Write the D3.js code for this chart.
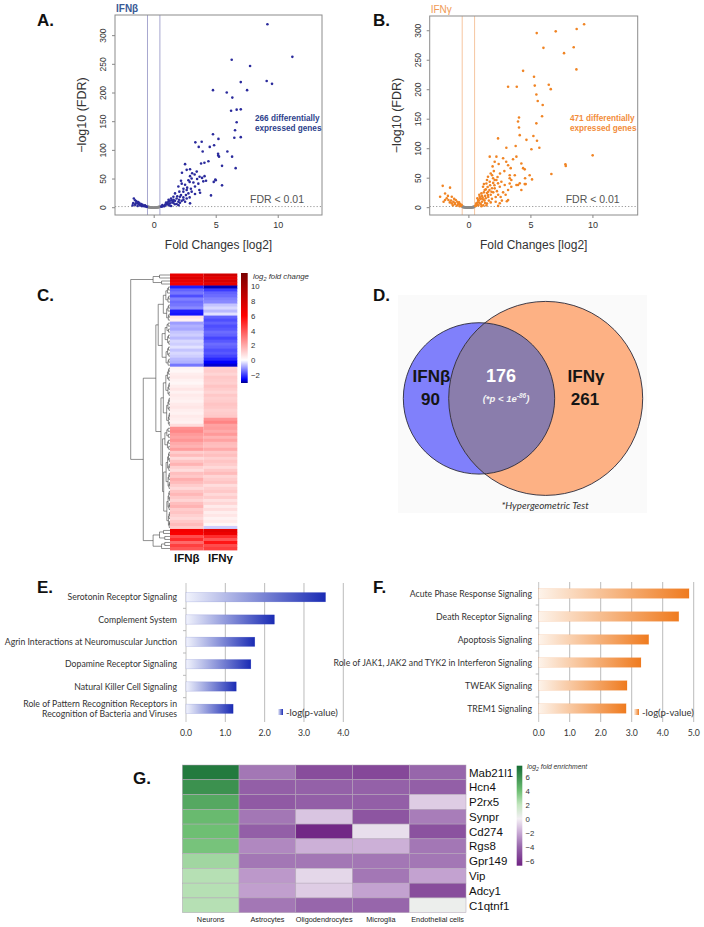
<!DOCTYPE html>
<html><head><meta charset="utf-8">
<script src="https://cdn.jsdelivr.net/npm/d3@7"></script>
<style>body{margin:0;background:#fff} svg{display:block}</style>
</head><body>
<svg id="c" width="704" height="927"></svg>
<script>
// ---------------- DATA ----------------
// Panel A: IFN-beta volcano (log2 fold change, -log10 FDR)
const ifnbSig = [
 [9.17,320],[11.18,263],[6.29,258],[7.77,247],[7.02,219],[9.11,221],[9.54,216],[4.78,205],[5.89,201],[7.53,205],
 [6.34,192],[6.24,169],[6.69,171],[7.02,171.5],[6.69,149],[6.56,135],[6.5,122],[7.02,123],[4.78,128],[5.22,120],
 [3.36,114],[3.87,115],[3.63,106],[4.52,106],[4.87,109],[5.94,98],[5.19,94],[5.27,89],[6.32,89],[6.61,69],
 [2.53,76],[3.82,77],[4.09,78.5],[4.41,81],[5.51,73],[2.28,61],[2.66,66],[2.93,67],[3.47,63],[4.97,49],
 [4.84,45],[4.22,47],[5.51,39],[4.62,21.5],[2.93,55],[2.8,48],[3.06,51],[3.2,44],[3.33,37],[3.68,31],
 [3.74,26],[2.93,7.6],[2.26,42],[2.53,40],[1.99,37],[2.07,28],[2.39,28],[2.66,31],[2.8,25],[3.06,28],
 [3.33,24],[1.72,25],[1.59,19],[1.85,16],[2.12,19],[2.39,18],[2.66,16],[1.45,13],[1.72,12],[1.99,10.5],
 [2.26,12],[1.18,10.5],[1.32,7.6],[1.59,8.7],[1.05,5.8],[0.91,4],[0.78,3],[0.65,1.7],[1.85,6.4],[2.12,8.7],
 [2.53,10.5],[3.95,98],[5.2,91],[3.1,60],[3.3,58],[2.9,45],[3.5,50],[3.9,52],[4.0,46],[3.6,42],
 [2.7,35],[3.0,33],[2.4,33],[2.2,22],[2.6,22],[1.9,20],[2.9,18],[1.6,14],[2.4,14],[1.3,12],
 [1.5,9],[1.1,8],[1.7,6],[0.95,6],[0.85,2.5],[1.25,4],[1.4,3],[2.0,4.5],[3.7,54],[4.1,55],
 [5.0,48],[2.2,47],[1.4,16],[1.2,14],[1.0,9],[0.7,4.5],[0.6,2.2],[1.15,6],[1.55,11],[2.05,14],
 [-1.6,16],[-1.5,13],[-1.4,11],[-1.65,8],[-1.3,8],[-1.2,6],[-1.5,5],[-1.0,6.5],[-0.9,5],[-1.1,4],
 [-0.8,3.5],[-0.7,4],[-0.65,2.5],[-0.6,2],[-1.3,3],[-0.95,2.8],[-1.7,4],[-1.45,7.5],[-1.25,10],[-1.15,8],
 [-0.85,3],[-0.75,2.6],[-0.55,1.5]
];
const ifnbNs = [
 [-0.5,2],[-0.45,1.6],[-0.4,1.3],[-0.35,1],[-0.3,0.8],[-0.25,0.6],[-0.2,0.4],[-0.15,0.2],[-0.1,0.1],[-0.05,0.05],
 [0,0],[0.05,0.05],[0.1,0.1],[0.15,0.2],[0.2,0.4],[0.25,0.6],[0.3,0.8],[0.35,1],[0.4,1.3],[0.45,1.6],[0.5,2],
 [-0.42,0.6],[-0.28,0.3],[0.28,0.3],[0.42,0.6],[0.12,0.5],[-0.12,0.4]
];
// Panel B: IFN-gamma volcano
const ifngSig = [
 [9.33,311],[8.73,303],[7.04,299],[5.51,296],[6.05,271],[8.49,272],[7.71,262],[8.71,234.5],[4.41,232],[5.29,222],
 [3.2,205],[3.9,205],[5.35,207],[6.48,208.5],[6.64,201],[5.48,192],[5.59,181],[5.99,174],[5.94,155],[4.08,153],
 [4.0,146],[5.48,143],[4.08,136],[2.39,117.5],[4.14,123],[4.68,115],[5.24,121.5],[5.53,113.6],[3.81,104.5],[3.06,101.7],
 [5.08,99],[5.72,101.7],[10.02,88.7],[1.72,86.5],[2.26,86.5],[2.8,83.7],[3.87,86.5],[2.12,78],[2.44,74],[3.2,72],
 [4.27,75],[4.41,67],[7.82,73.5],[7.85,70.7],[3.41,67],[4.54,65],[4.94,55],[6.69,57],[1.91,55],[3.33,55],
 [3.74,55],[2.12,47],[3.46,47],[4.57,50],[4.62,40],[4.0,38.5],[3.33,41],
 [1.8,58],[1.58,52.5],[1.99,50],[1.72,44],[1.45,41],[1.18,35.6],[1.31,30],[1.05,24.3],[0.91,18.7],[0.78,13],
 [0.64,7.4],[2.26,46.9],[2.66,44],[2.39,41.3],[2.93,38.5],[2.53,35.6],[2.12,32.8],[1.86,27],[1.58,21.5],[3.2,30],
 [3.46,35.6],[4.14,41.3],[4.54,40],[4.27,30],[3.87,38.5],[3.33,49.8],[2.53,7.4],[3.2,13],[5.13,48],
 [0.6,3],[0.7,5],[0.8,4],[0.9,8],[1.0,6],[1.1,10],[1.2,14],[1.3,12],[1.0,15],[1.1,20],
 [1.4,16],[1.5,25],[1.6,18],[1.7,30],[1.8,22],[1.9,33],[2.0,26],[2.1,38],[2.2,18],[2.3,28],
 [2.4,22],[1.25,26],[1.4,31],[1.55,35],[0.85,12],[0.95,16],[1.35,20],[1.65,12],[1.9,15],[2.2,10],
 [2.6,18],[2.8,26],[3.0,22],[2.7,12],[1.2,4],[1.5,7],[1.8,9],[0.75,9],[0.65,5.5],[0.55,3],
 [1.05,2.5],[1.45,4],[2.4,3],[3.1,11],[1.15,17],[1.35,8],[1.6,27],[1.75,38],[2.0,42],[2.35,52],
 [2.05,62],[1.95,70],[2.9,62],[3.05,78],[3.6,82],[2.55,58],[0.88,22],[0.72,16],[1.25,40],[1.5,47],
 [-2.07,37],[-1.48,34],[-2.28,18.6],[-1.88,24],[-1.75,16],[-1.34,18.6],[-1.61,13],[-1.21,10],[-1.02,13],[-0.81,7.3],
 [-1.08,6.2],[-0.67,6.2],[-0.54,4.5],[-0.94,3.4],[-1.34,7.3],[-1.88,13],[-1.5,9],[-1.15,15],[-0.75,9],[-0.6,3],
 [-0.85,5],[-1.25,4],[-1.65,20],[-2.0,10],[-0.7,2.5],[-0.9,10],[-1.4,12],[-1.1,8],[-0.62,5]
];
const ifngNs = [
 [-0.5,2],[-0.45,1.6],[-0.4,1.3],[-0.35,1],[-0.3,0.8],[-0.25,0.6],[-0.2,0.4],[-0.15,0.2],[-0.1,0.1],[-0.05,0.05],
 [0,0],[0.05,0.05],[0.1,0.1],[0.15,0.2],[0.2,0.4],[0.25,0.6],[0.3,0.8],[0.35,1],[0.4,1.3],[0.45,1.6],[0.5,2],
 [-0.42,0.6],[-0.28,0.3],[0.28,0.3],[0.42,0.6],[0.12,0.5],[-0.12,0.4]
];
const volcanoYTicks = [0,50,100,150,200,250,300];
const volcanoXTicks = [0,5,10];
const fcCutoff = [-0.5, 0.5];
const fdrLine = 2;

// Panel C: heatmap of log2 fold change (rows ordered by clustering)
const heatCols = ["IFNβ","IFNγ"];
const heatIFNb = [7,7.5,7,6.5,-2.3,-1.6,-1.4,-1.8,-1.3,-1.5,-1.4,-1.2,-2.3,-2.4,0.6,0.3,
 -1.0,-0.8,-0.9,-0.6,-0.5,-0.7,-0.4,-0.5,-0.3,-0.6,-0.4,-0.5,-0.7,-0.8,-1.4,
 0.3,0.2,0.4,0.5,0.3,0.2,0.4,0.6,0.3,0.5,0.4,0.3,0.5,0.6,0.4,0.3,0.5,0.4,0.3,0.8,
 2.6,2.8,2.4,2.2,2.5,2.0,1.8,2.3,
 1.2,1.6,0.9,1.4,1.8,1.1,0.8,1.5,1.3,1.9,1.6,1.2,0.9,1.4,1.7,1.3,1.0,1.5,1.8,1.2,1.4,1.1,0.9,1.3,1.6,1.2,
 6.5,6.2,4.2,5,3.5,4.5,4];
const heatIFNg = [8,7.2,7.8,7,-2.9,-2,-1.6,-1.5,-1.3,-1.2,-0.6,-0.4,-0.7,-0.3,-1.6,-1.8,
 -1.6,-1.8,-1.7,-1.5,-1.6,-1.9,-1.7,-1.5,-1.6,-1.8,-1.7,-1.9,-2.2,-2.6,-2.8,
 1.1,1.2,1.0,1.3,1.2,1.1,1.4,1.2,1.0,1.3,1.1,1.2,1.4,1.3,1.1,1.2,1.3,2.5,2.9,2.2,
 2.3,2.0,2.4,1.8,2.2,1.6,1.5,2.0,
 1.3,1.5,1.1,1.4,1.2,0.9,1.3,1.6,1.0,1.2,1.4,0.8,1.1,1.3,0.9,1.2,0.7,1.0,0.5,0.8,0.4,0.6,0.3,0.5,0.2,-0.5,
 7.2,6.8,5,4,5.5,4.2,4.6];
const heatLegendTicks = [10,8,6,4,2,0,-2];
// dendrogram: h = merge height (0..1), r = leaf row range
const dendroTree = {h:1.0, c:[
  {h:0.43, r:[0,3]},
  {h:0.68, c:[
    {h:0.36, c:[
      {h:0.3, c:[{h:0.17, r:[4,15]}, {h:0.2, r:[16,30]}]},
      {h:0.23, c:[{h:0.17, r:[31,50]}, {h:0.19, c:[{h:0.13, r:[51,58]}, {h:0.16, r:[59,84]}]}]}
    ]},
    {h:0.43, r:[85,91]}
  ]}
]};

// Panel D: Venn
const vennSets = ["IFNβ","IFNγ"];
const vennOnly = [90, 261];
const vennShared = 176;

// Panel E / F: pathway enrichment
const pathwaysE = ["Serotonin Receptor Signaling","Complement System","Agrin Interactions at Neuromuscular Junction",
 "Dopamine Receptor Signaling","Natural Killer Cell Signaling",
 "Role of Pattern Recognition Receptors in|Recognition of Bacteria and Viruses"];
const valuesE = [3.55, 2.25, 1.75, 1.65, 1.28, 1.2];
const ticksE = [0,1,2,3,4];
const pathwaysF = ["Acute Phase Response Signaling","Death Receptor Signaling","Apoptosis Signaling",
 "Role of JAK1, JAK2 and TYK2 in Interferon Signaling","TWEAK Signaling","TREM1 Signaling"];
const valuesF = [4.85, 4.52, 3.55, 3.3, 2.85, 2.82];
const ticksF = [0,1,2,3,4,5];

// Panel G: cell-type enrichment
const genesG = ["Mab21l1","Hcn4","P2rx5","Synpr","Cd274","Rgs8","Gpr149","Vip","Adcy1","C1qtnf1"];
const cellTypesG = ["Neurons","Astrocytes","Oligodendrocytes","Microglia","Endothelial cells"];
const enrichG = [
 [7.0,-3.5,-5.0,-5.2,-4.0],
 [6.0,-4.3,-4.2,-4.2,-4.3],
 [5.0,-4.5,-4.3,-4.3,-1.0],
 [4.2,-3.5,-1.2,-4.7,-3.3],
 [4.0,-4.3,-6.5,-0.5,-4.8],
 [3.8,-3.0,-1.8,-1.8,-3.5],
 [2.8,-3.5,-3.5,-3.5,-3.5],
 [2.3,-2.5,-0.7,-3.5,-2.2],
 [2.3,-2.3,-1.0,-2.2,-5.0],
 [2.3,-3.5,-4.0,-4.0,0.3]
];
const enrichLegendTicks = [6,4,2,0,-2,-4,-6];

// ---------------- DRAW ----------------
const svg = d3.select("#c");
const defs = svg.append("defs");
const SANS = "'Liberation Sans', Arial, Helvetica, sans-serif";
const CAL = "Lato, 'Open Sans', sans-serif";

function panelLabel(t, x, y){
  svg.append("text").attr("x",x).attr("y",y).text(t)
    .attr("font-family",SANS).attr("font-weight","bold").attr("font-size",17).attr("fill","#111");
}

// ---- Volcano ----
function volcano(o){
  const g = svg.append("g");
  const x = d3.scaleLinear().domain(o.xd).range([o.x0,o.x1]);
  const y = d3.scaleLinear().domain(o.yd).range([o.y1,o.y0]);
  fcCutoff.forEach(v=>g.append("line").attr("x1",x(v)).attr("x2",x(v)).attr("y1",o.y0).attr("y2",o.y1)
     .attr("stroke",o.lineCol).attr("stroke-width",1));
  g.append("line").attr("x1",o.x0).attr("x2",o.x1).attr("y1",y(fdrLine)).attr("y2",y(fdrLine))
     .attr("stroke","#999").attr("stroke-dasharray","1.2,2").attr("stroke-width",1);
  g.selectAll("circle.ns").data(o.ns).join("circle").attr("cx",d=>x(d[0])).attr("cy",d=>y(d[1]))
     .attr("r",1.3).attr("fill","#8a8a8a");
  g.selectAll("circle.sig").data(o.sig).join("circle").attr("cx",d=>x(d[0])).attr("cy",d=>y(d[1]))
     .attr("r",1.3).attr("fill",o.col);
  g.append("rect").attr("x",o.x0).attr("y",o.y0).attr("width",o.x1-o.x0).attr("height",o.y1-o.y0)
     .attr("fill","none").attr("stroke","#8c8c8c").attr("stroke-width",1);
  // y axis
  const ya = g.append("g").attr("transform",`translate(${o.x0},0)`)
    .call(d3.axisLeft(y).tickValues(volcanoYTicks).tickSize(3).tickFormat(d3.format("d")));
  ya.select(".domain").remove();
  ya.selectAll(".tick").attr("transform",null);
  ya.selectAll(".tick line").attr("stroke","#888").attr("y1",d=>y(d)).attr("y2",d=>y(d));
  ya.selectAll(".tick text").attr("font-family",SANS).attr("font-size",8.5).attr("fill","#333")
    .attr("x",-9).attr("y",d=>y(d)).attr("dy",0).attr("text-anchor","middle")
    .attr("transform",d=>`rotate(-90, -9, ${y(d)})`);
  // x axis
  const xa = g.append("g").attr("transform",`translate(0,${o.y1})`)
    .call(d3.axisBottom(x).tickValues(volcanoXTicks).tickSize(3).tickPadding(4));
  xa.select(".domain").remove();
  xa.selectAll("line").attr("stroke","#888");
  xa.selectAll("text").attr("font-family",SANS).attr("font-size",9).attr("fill","#333");
  g.append("text").attr("transform",`translate(${o.x0-29},${(o.y0+o.y1)/2}) rotate(-90)`)
    .attr("text-anchor","middle").attr("font-family",SANS).attr("font-size",12.5).attr("fill","#333")
    .text("−log10 (FDR)");
  g.append("text").attr("x",(o.x0+o.x1)/2).attr("y",o.y1+34).attr("text-anchor","middle")
    .attr("font-family",SANS).attr("font-size",12).attr("fill","#333").text("Fold Changes [log2]");
  g.append("text").attr("x",o.x1-18).attr("y",y(fdrLine)-4).attr("text-anchor","end")
    .attr("font-family",SANS).attr("font-size",10.5).attr("fill","#555").text("FDR < 0.01");
  g.append("text").attr("x",o.x0+1).attr("y",o.y0-3).attr("font-family",SANS).attr("font-size",10)
    .attr("font-weight",o.titleW).attr("fill",o.titleCol).text(o.title);
  const t = g.append("text").attr("font-family",SANS).attr("font-size",8.2).attr("font-weight","bold").attr("fill",o.col2);
  t.append("tspan").attr("x",o.annX).attr("y",121).text(o.ann1);
  t.append("tspan").attr("x",o.annX).attr("y",131).text("expressed genes");
}
volcano({x0:115,x1:322,y0:15,y1:215,xd:[-3.12,13.57],yd:[-12.7,336],sig:ifnbSig,ns:ifnbNs,
  col:"#2a2a9c",col2:"#2d3f8c",lineCol:"#a7a7cf",title:"IFNβ",titleCol:"#3a5a96",titleW:"bold",
  ann1:"266 differentially",annX:255});
volcano({x0:429.7,x1:637.7,y0:16,y1:215,xd:[-3.12,13.65],yd:[-12.4,325],sig:ifngSig,ns:ifngNs,
  col:"#f08424",col2:"#f28c3a",lineCol:"#f6c6a0",title:"IFNγ",titleCol:"#f09a55",titleW:"normal",
  ann1:"471 differentially",annX:570});
panelLabel("A.",37,26);
panelLabel("B.",373,26);

// ---- Panel C heatmap ----
(function(){
  const hx0=170, hx1=237.3, hy0=273.5, hy1=550;
  const nRows = heatIFNb.length;
  const rowsIdx = d3.range(nRows);
  const yb = d3.scaleBand().domain(rowsIdx).range([hy0,hy1]).paddingInner(0);
  const xb = d3.scaleBand().domain(heatCols).range([hx0,hx1]);
  const col = d3.scaleLinear().domain([-3.1,-2.6,0,6,11.8]).range(["#00008b","#0000ff","#ffffff","#ff0000","#7a0000"]).clamp(true);
  const g = svg.append("g");
  [heatIFNb, heatIFNg].forEach((arr,ci)=>{
    g.selectAll(null).data(arr).join("rect")
      .attr("x",xb(heatCols[ci])).attr("width",xb.bandwidth())
      .attr("y",(d,i)=>yb(i)).attr("height",yb.bandwidth()+0.4)
      .attr("fill",d=>col(d));
  });
  g.selectAll(null).data(heatCols).join("text").attr("x",d=>xb(d)+xb.bandwidth()/2).attr("y",562)
    .attr("text-anchor","middle").attr("font-family",SANS).attr("font-weight","bold").attr("font-size",11.5)
    .attr("fill","#111").text(d=>d);
  // dendrogram
  const xh = d3.scaleLinear().domain([0,1]).range([hx0,130.7]);
  function build(n){
    if(n.c) return {h:n.h, children:n.c.map(build)};
    const [s,e]=n.r;
    function split(s,e,h){
      if(s===e) return {h:0, leaf:s};
      const m = Math.floor((s+e)/2);
      return {h:h, children:[split(s,m,h*0.62), split(m+1,e,h*0.5)]};
    }
    return split(s,e,n.h);
  }
  const root = d3.hierarchy(build(dendroTree));
  root.eachAfter(nd=>{
    if(nd.children){ nd.py = (nd.children[0].py + nd.children[nd.children.length-1].py)/2; }
    else nd.py = yb(nd.data.leaf)+yb.bandwidth()/2;
    nd.px = xh(nd.data.h);
  });
  let p = d3.path();
  root.each(nd=>{
    if(!nd.children) return;
    const ys = nd.children.map(c=>c.py);
    p.moveTo(nd.px, d3.min(ys)); p.lineTo(nd.px, d3.max(ys));
    nd.children.forEach(c=>{ p.moveTo(nd.px, c.py); p.lineTo(c.px, c.py); });
  });
  g.append("path").attr("d",p.toString()).attr("fill","none").attr("stroke","#444").attr("stroke-width",0.6);
  // color bar
  const cbY = d3.scaleLinear().domain([-3.1,11.8]).range([383,273]);
  const lg = defs.append("linearGradient").attr("id","gradC").attr("x1",0).attr("x2",0).attr("y1",1).attr("y2",0);
  col.domain().forEach(v=>lg.append("stop").attr("offset",(v+3.1)/14.9).attr("stop-color",col(v)));
  g.append("rect").attr("x",241).attr("y",273).attr("width",6.7).attr("height",110).attr("fill","url(#gradC)");
  g.selectAll(null).data(heatLegendTicks).join("text").attr("x",251).attr("y",d=>cbY(d)+3)
    .attr("font-family",SANS).attr("font-size",7.8).attr("fill","#333").text(d=>d<0?"−"+Math.abs(d):d);
  const tt = g.append("text").attr("x",253).attr("y",279).attr("font-family",SANS).attr("font-size",7.8)
    .attr("font-style","italic").attr("fill","#333");
  tt.append("tspan").text("log");
  tt.append("tspan").attr("font-size",5.5).attr("dy",2).text("2");
  tt.append("tspan").attr("dy",-2).text(" fold change");
})();
panelLabel("C.",37,301);

// ---- Panel D Venn ----
(function(){
  const g = svg.append("g");
  g.append("rect").attr("x",398).attr("y",295).attr("width",249).attr("height",218).attr("fill","#fafafa");
  const total = [vennOnly[0]+vennShared, vennOnly[1]+vennShared];
  const r = d3.scaleSqrt().domain([0,d3.max(total)]).range([0,97]);
  const cx = [479, 545.7], cy = 398.4;
  const cols = ["#8080fb","#fdb184"];
  g.append("clipPath").attr("id","clipB").append("circle").attr("cx",cx[0]).attr("cy",cy).attr("r",r(total[0]));
  g.append("circle").attr("cx",cx[0]).attr("cy",cy).attr("r",r(total[0])).attr("fill",cols[0]);
  g.append("circle").attr("cx",cx[1]).attr("cy",cy).attr("r",r(total[1])).attr("fill",cols[1]);
  g.append("circle").attr("cx",cx[1]).attr("cy",cy).attr("r",r(total[1])).attr("fill","#8a7dac").attr("clip-path","url(#clipB)");
  g.append("circle").attr("cx",cx[0]).attr("cy",cy).attr("r",r(total[0])).attr("fill","none").attr("stroke","#2a2a3a").attr("stroke-width",0.9);
  g.append("circle").attr("cx",cx[1]).attr("cy",cy).attr("r",r(total[1])).attr("fill","none").attr("stroke","#2a2a3a").attr("stroke-width",0.9);
  const tx = [431.5, 586];
  vennSets.forEach((s,i)=>{
    g.append("text").attr("x",tx[i]).attr("y",381.5).attr("text-anchor","middle").attr("font-family",SANS)
      .attr("font-weight","bold").attr("font-size",17).attr("fill","#151515").text(s);
    g.append("text").attr("x",tx[i]-1).attr("y",405).attr("text-anchor","middle").attr("font-family",SANS)
      .attr("font-weight","bold").attr("font-size",17).attr("fill","#151515").text(vennOnly[i]);
  });
  g.append("text").attr("x",501).attr("y",381.5).attr("text-anchor","middle").attr("font-family",SANS)
    .attr("font-weight","bold").attr("font-size",18).attr("fill","#fff").text(vennShared);
  const pt = g.append("text").attr("x",506).attr("y",402).attr("text-anchor","middle").attr("font-family",SANS)
    .attr("font-weight","bold").attr("font-style","italic").attr("font-size",9.5).attr("fill","#f4f4f4");
  pt.append("tspan").text("(*p < 1e");
  pt.append("tspan").attr("font-size",6.5).attr("dy",-4).text("-86");
  pt.append("tspan").attr("dy",4).text(")");
  g.append("text").attr("x",545).attr("y",509).attr("text-anchor","middle").attr("font-family",CAL)
    .attr("font-style","italic").attr("font-size",9.8).attr("fill","#333").text("*Hypergeometric Test");
})();
panelLabel("D.",373,301);

// ---- Panels E / F bars ----
function bars(o){
  const g = svg.append("g");
  const x = d3.scaleLinear().domain([0,o.ticks[o.ticks.length-1]]).range([o.x0,o.x1]);
  const y = d3.scaleBand().domain(o.cats).range([o.b0,o.b1]).paddingInner(0.58).paddingOuter(0.29);
  const step = y.step();
  const gid = o.id;
  const lg = defs.append("linearGradient").attr("id",gid).attr("x1",0).attr("x2",1).attr("y1",0).attr("y2",0);
  lg.append("stop").attr("offset",0).attr("stop-color",o.c0);
  lg.append("stop").attr("offset",1).attr("stop-color",o.c1);
  g.selectAll(null).data(o.ticks).join("line").attr("x1",d=>x(d)).attr("x2",d=>x(d))
    .attr("y1",o.g0).attr("y2",o.g1).attr("stroke",d=>d===0?"#b5b5b5":"#a9a9a9").attr("stroke-width",0.8);
  g.selectAll(null).data(o.cats.slice(1)).join("line").attr("x1",x(0)-3).attr("x2",x(0))
    .attr("y1",d=>y(d)-step*0.29).attr("y2",d=>y(d)-step*0.29).attr("stroke","#aaa").attr("stroke-width",0.8);
  g.selectAll(null).data(o.vals).join("rect").attr("x",x(0)).attr("y",(d,i)=>y(o.cats[i]))
    .attr("width",d=>x(d)-x(0)).attr("height",y.bandwidth()).attr("fill",`url(#${gid})`)
    .attr("stroke",o.c1).attr("stroke-opacity",0.25).attr("stroke-width",0.5);
  o.cats.forEach(c=>{
    const parts = c.split("|");
    const cyy = y(c)+y.bandwidth()/2;
    const t = g.append("text").attr("text-anchor","end").attr("font-family",CAL).attr("font-size",8.7).attr("fill","#333");
    parts.forEach((s,k)=>t.append("tspan").attr("x",o.lx).attr("y",cyy+3 + (k-(parts.length-1)/2)*10.5).text(s));
  });
  g.selectAll(null).data(o.ticks).join("text").attr("x",d=>x(d)).attr("y",o.g1+14).attr("text-anchor","middle")
    .attr("font-family",CAL).attr("font-size",8.7).attr("fill","#333").text(d=>d.toFixed(1));
  g.append("rect").attr("x",o.legX).attr("y",o.legY-3).attr("width",5).attr("height",6).attr("fill",`url(#${gid})`);
  g.append("text").attr("x",o.legX+8).attr("y",o.legY+3.5).attr("font-family",CAL).attr("font-size",9.5)
    .attr("fill","#333").text("-log(p-value)");
}
bars({x0:186,x1:343.3,b0:586,b1:720,g0:583,g1:722,ticks:ticksE,cats:pathwaysE,vals:valuesE,id:"gE",
  c0:"#f1f3fc",c1:"#1a2bb4",lx:177,legX:278,legY:712});
bars({x0:538.7,x1:693.7,b0:582,b1:720,g0:582,g1:722,ticks:ticksF,cats:pathwaysF,vals:valuesF,id:"gF",
  c0:"#fdf3ea",c1:"#ef7b1f",lx:532,legX:634,legY:712});
panelLabel("E.",37,593);
panelLabel("F.",373,593);

// ---- Panel G ----
(function(){
  const g = svg.append("g");
  const x = d3.scaleBand().domain(cellTypesG).range([182.3,466]);
  const y = d3.scaleBand().domain(genesG).range([765,912.7]);
  const col = d3.scaleLinear().domain([-6.7,-4,-2,0,2,4,7.6])
    .range(["#6f2383","#9766ab","#c8a9d4","#f3eff4","#c3e6bf","#6ebf73","#146c33"]);
  genesG.forEach((gn,ri)=>{
    g.selectAll(null).data(enrichG[ri]).join("rect").attr("x",(d,ci)=>x(cellTypesG[ci])).attr("y",y(gn))
      .attr("width",x.bandwidth()).attr("height",y.bandwidth()).attr("fill",d=>col(d))
      .attr("stroke","#b3a5b8").attr("stroke-width",0.5);
  });
  g.selectAll(null).data(genesG).join("text").attr("x",469).attr("y",d=>y(d)+y.bandwidth()/2+4.2)
    .attr("font-family",SANS).attr("font-size",11.5).attr("fill","#111").text(d=>d);
  g.selectAll(null).data(cellTypesG).join("text").attr("x",d=>x(d)+x.bandwidth()/2).attr("y",922)
    .attr("text-anchor","middle").attr("font-family",SANS).attr("font-size",7.3).attr("fill","#222").text(d=>d);
  const cb = d3.scaleLinear().domain([-6.71,7.57]).range([865.7,765.7]);
  const lg = defs.append("linearGradient").attr("id","gG").attr("x1",0).attr("x2",0).attr("y1",1).attr("y2",0);
  col.domain().forEach(v=>lg.append("stop").attr("offset",(v+6.71)/14.28).attr("stop-color",col(v)));
  g.append("rect").attr("x",516.7).attr("y",765.7).attr("width",5.6).attr("height",100).attr("fill","url(#gG)");
  g.selectAll(null).data(enrichLegendTicks).join("text").attr("x",525.5).attr("y",d=>cb(d)+3)
    .attr("font-family",SANS).attr("font-size",7.8).attr("fill","#333").text(d=>d<0?"−"+Math.abs(d):d);
  const tt = g.append("text").attr("x",527).attr("y",768.5).attr("font-family",SANS).attr("font-size",6.8)
    .attr("font-style","italic").attr("fill","#333");
  tt.append("tspan").text("log");
  tt.append("tspan").attr("font-size",5).attr("dy",2).text("2");
  tt.append("tspan").attr("dy",-2).text(" fold  enrichment");
})();
panelLabel("G.",133,784);
</script>
</body></html>
